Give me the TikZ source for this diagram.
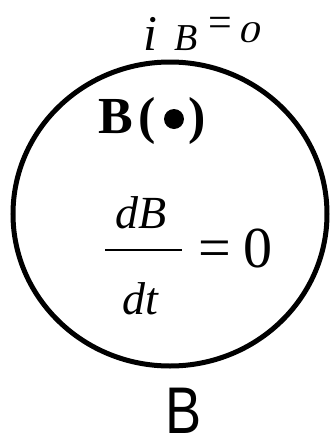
\documentclass[tikz,border=0pt]{standalone}
\usepackage{fontspec}
\setmainfont{Liberation Serif}
\newfontfamily\sansfam{Liberation Sans}
\begin{document}
\begin{tikzpicture}[x=1pt,y=-1pt,
  lbl/.style={inner sep=0pt,outer sep=0pt},
  hand/.style={lbl,anchor=base},
  ring/.style={line width=5pt,black}]
\useasboundingbox (0,0) rectangle (333,440);
\draw[ring] (170,214) ellipse [x radius=157, y radius=152];
% handwritten label i_B = 0
\node[hand] (ib1) at (150,50) {\fontsize{50}{54}\selectfont\textit{i}};
\node[hand] (ib2) at (186,50) {\fontsize{38}{42}\selectfont\textit{B}};
\node[hand] (ib3) at (220,36) {\fontsize{42}{46}\selectfont =};
\node[hand,xscale=1.4] (ib4) at (250,42) {\fontsize{30}{34}\selectfont\textit{0}};
% B(dot)
\node[lbl,anchor=base west] (bb) at (98,133) {\fontsize{52}{56}\selectfont\textbf{B}};
\node[lbl,anchor=base west] (lp) at (138,133) {\fontsize{52}{56}\selectfont\textbf{(}};
\fill (174,119) circle (10);
\node[lbl,anchor=base west] (rp) at (188,133) {\fontsize{52}{56}\selectfont\textbf{)}};
% dB/dt = 0
\node[lbl,anchor=base] (db) at (141,228) {\fontsize{46}{50}\selectfont\textit{dB}};
\draw[line width=2pt] (105,250) -- (182,250);
\node[lbl,anchor=base] (dt) at (141,314) {\fontsize{46}{50}\selectfont\textit{dt}};
\node[lbl,anchor=base west] (eq) at (198,267) {\fontsize{58}{62}\selectfont =};
\node[lbl,anchor=base west] (zero) at (243,267) {\fontsize{58}{62}\selectfont 0};
% label below
\node[lbl,anchor=base,xscale=0.82] (bl) at (184,433) {\sansfam\fontsize{66}{70}\selectfont B};
\end{tikzpicture}
\end{document}
